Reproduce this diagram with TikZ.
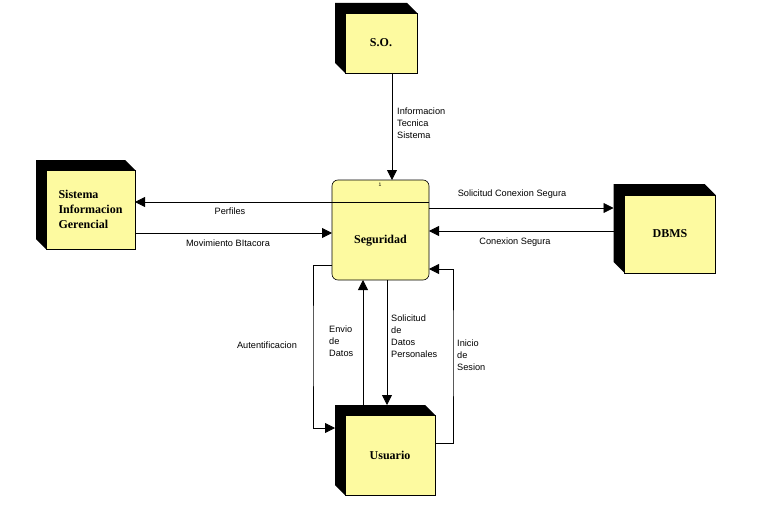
\documentclass[tikz,border=0pt]{standalone}
\usepackage{fontspec}
\setmainfont{Liberation Serif}
\newfontfamily\arialf{Liberation Sans}
\usetikzlibrary{arrows.meta,calc,backgrounds}
\definecolor{boxyellow}{RGB}{253,250,160}
\tikzset{
  ent/.style={draw=black, line width=0.6pt, fill=boxyellow, inner sep=0pt, outer sep=0pt,
    font=\fontsize{12}{15}\selectfont\bfseries, align=left},
  proc/.style={draw=black, line width=0.6pt, fill=boxyellow, rounded corners=6pt, inner sep=0pt, outer sep=0pt,
    font=\fontsize{12}{15}\selectfont\bfseries},
  flow/.style={line width=0.8pt, -{Triangle[length=10pt,width=10pt]}},
  plain/.style={line width=0.8pt},
  lbl/.style={font=\arialf\fontsize{9.2}{12}\selectfont, inner sep=0pt, align=left},
}
\newcommand\backface[2]{%
  \begin{pgfonlayer}{background}
  \fill[black] ($(#1.north west)+(-#2,-#2)$) -- ($(#1.north east)+(-#2,-#2)$) -- (#1.north east)
     -- (#1.south west) -- ($(#1.south west)+(-#2,-#2)$) -- cycle;
  \end{pgfonlayer}}
\begin{document}
\begin{tikzpicture}[x=1pt,y=-1pt]
\useasboundingbox (0,0) rectangle (780,527);
% entities
\node[ent, minimum width=72pt, minimum height=60pt] (so) at (381,43) {S.O.};
\node[ent, minimum width=89pt, minimum height=79pt] (sig) at (90.5,209.5) {Sistema\\Informacion\\Gerencial};
\node[ent, minimum width=91pt, minimum height=78pt] (dbms) at (670,234) {DBMS};
\node[ent, minimum width=90pt, minimum height=80pt] (usr) at (390,455) {Usuario};
\backface{so}{10}
\backface{sig}{10}
\backface{dbms}{11}
\backface{usr}{10}
\coordinate (dbback) at ($(dbms.north west)+(-11,-11)$);
\coordinate (usrback) at ($(usr.north west)+(-10,-10)$);
% process
\node[proc, minimum width=97pt, minimum height=100pt] (seg) at (380.5,230) {};
\node[font=\bfseries\fontsize{12}{15}\selectfont, inner sep=0pt] (segt) at (380.5,241) {Seguridad};
\node[font=\arialf\fontsize{5}{6}\selectfont, inner sep=0pt] (segid) at (380,185) {1};
\draw[line width=0.6pt] (seg.west |- 0,202) -- (seg.east |- 0,202);
% flows
\draw[flow] (so.south -| 392,0) -- (seg.north -| 392,0);
\draw[flow] (seg.west |- 0,202) -- (sig.east |- 0,202);
\draw[flow] (sig.east |- 0,233) -- (seg.west |- 0,233);
\draw[flow] (seg.east |- 0,208) -- (dbback |- 0,208);
\draw[flow] (dbback |- 0,231) -- (seg.east |- 0,231);
\draw[flow] (seg.west |- 0,265) -| (313,345) |- (usrback |- 0,428);
\draw[flow] (usrback -| 363,0) -- (seg.south -| 363,0);
\draw[flow] (seg.south -| 387,0) -- (usrback -| 387,0);
\draw[flow] (usr.east |- 0,443) -| (453,350) |- (seg.east |- 0,269);
% labels
\node[lbl, anchor=west] (l1) at (397,123) {Informacion\\Tecnica\\Sistema};
\node[lbl] (l2) at (230,211) {Perfiles};
\node[lbl] (l3) at (228,243) {Movimiento BItacora};
\node[lbl] (l4) at (512,194) {Solicitud Conexion Segura};
\node[lbl] (l5) at (515,242) {Conexion Segura};
\node[lbl] (l6) at (267,345) {Autentificacion};
\node[lbl, anchor=west] (l7) at (329,341) {Envio\\de\\Datos};
\node[lbl, anchor=west] (l8) at (391,336) {Solicitud\\de\\Datos\\Personales};
\node[lbl, anchor=west] (l9) at (457,355) {Inicio\\de\\Sesion};
\end{tikzpicture}
\end{document}
